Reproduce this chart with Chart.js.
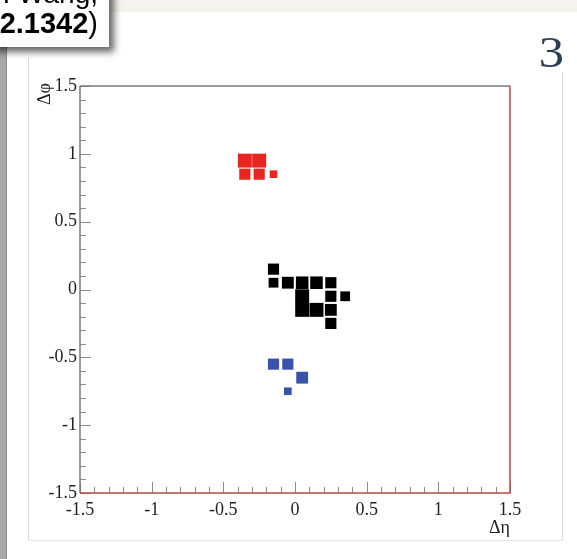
<!DOCTYPE html>
<html lang="en">
<head>
  <meta charset="UTF-8">
  <title>Delta eta / Delta phi</title>
  <script src="https://cdn.jsdelivr.net/npm/chart.js"></script>
  <style>
    html, body { margin: 0; padding: 0; background: #fff; }
    #page { position: relative; width: 577px; height: 559px; overflow: hidden; background: #fff; }
    .band { position: absolute; left: 110px; top: 0; width: 467px; height: 12px; background: #f6f3ee; }
    .stripe { position: absolute; left: 0; top: 40px; width: 6px; height: 519px; background: #a9a9a9; border-right: 1px solid #8c8c8c; }
    .vl { position: absolute; width: 1px; background: #dcdcdc; }
    .hl { position: absolute; height: 1px; background: #e2e2e2; }
    .ref { position: absolute; left: -10px; top: -10px; width: 119px; height: 57px; background: #fff;
           box-shadow: 5px 5px 7px rgba(0,0,0,0.6); font-family: "Liberation Sans", sans-serif; }
    .ref span { position: absolute; right: 11px; white-space: nowrap; }
    .ref .l1 { top: -12px; font-size: 28px; }
    .ref .l2 { top: 17px; font-size: 29px; }
    .num { position: absolute; right: 13px; top: 27px; font-family: "Liberation Serif", serif; font-size: 44px; color: #2c3d57;
           transform: scaleX(1.15); transform-origin: right center; }
    canvas { position: absolute; left: 0; top: 0; }
  </style>
</head>
<body>
<div id="page">
  <div class="band"></div>
  <div class="stripe"></div>
  <div class="vl" style="left:28px; top:58px; height:482px;"></div>
  <div class="vl" style="left:562px; top:72px; height:468px;"></div>
  <div class="hl" style="left:28px; top:540px; width:535px;"></div>
  <canvas id="chartBins" width="577" height="559"></canvas>
  <div class="ref"><span class="l1">Y. Wang,</span><span class="l2"><b>2.1342</b>)</span></div>
  <div class="num">3</div>
</div>

<script>
  // centros de las celdas (bin 0.1 x 0.1) y su contenido relativo
  const binW = 0.1;

  const redEta = [-0.35, -0.25, -0.35, -0.25, -0.15];
  const redPhi = [0.95, 0.95, 0.85, 0.85, 0.85];
  const redW   = [1.0, 1.0, 0.64, 0.64, 0.30];

  const blackEta = [-0.15, -0.15, -0.05, 0.05, 0.15, 0.25, 0.05, 0.05, 0.15, 0.25, 0.25, 0.25, 0.35];
  const blackPhi = [0.15, 0.05, 0.05, 0.05, 0.05, 0.05, -0.05, -0.15, -0.15, -0.05, -0.15, -0.25, -0.05];
  const blackW   = [0.64, 0.49, 0.72, 0.81, 0.81, 0.64, 1.0, 1.0, 1.0, 0.64, 0.72, 0.64, 0.49];

  const blueEta = [-0.15, -0.05, 0.05, -0.05];
  const bluePhi = [-0.55, -0.55, -0.65, -0.75];
  const blueW   = [0.64, 0.64, 0.72, 0.30];

  const axisTicks = [-1.5, -1, -0.5, 0, 0.5, 1, 1.5];

  function puntos(eta, phi) {
    return eta.map((e, i) => ({ x: e, y: phi[i] }));
  }

  // lado de la caja proporcional a sqrt(contenido), como la opción BOX de ROOT
  function radioCaja(weights) {
    return function (ctx) {
      const xs = ctx.chart.scales.x, ys = ctx.chart.scales.y;
      const bx = Math.abs(xs.getPixelForValue(binW) - xs.getPixelForValue(0));
      const by = Math.abs(ys.getPixelForValue(binW) - ys.getPixelForValue(0));
      const side = (bx + by) / 2 * Math.sqrt(weights[ctx.dataIndex]);
      return side / 2 / Math.SQRT1_2;
    };
  }

  // marco del histograma, marcas de las escalas y títulos de los ejes
  const marcoPlugin = {
    id: 'marco',
    afterDraw(chart) {
      const c = chart.ctx, a = chart.chartArea;
      const xs = chart.scales.x, ys = chart.scales.y;
      c.save();
      c.lineWidth = 1;
      c.strokeStyle = '#8a8a8a';
      for (let k = -15; k <= 15; k++) {
        const v = k / 10;
        const len = (k % 5 === 0) ? 11 : 6;
        const px = Math.round(xs.getPixelForValue(v)) + 0.5;
        c.beginPath(); c.moveTo(px, a.bottom); c.lineTo(px, a.bottom - len); c.stroke();
        const py = Math.round(ys.getPixelForValue(v)) + 0.5;
        c.beginPath(); c.moveTo(a.left, py); c.lineTo(a.left + len, py); c.stroke();
      }
      c.lineWidth = 1.5;
      c.strokeStyle = '#7a7a7a';
      c.beginPath(); c.moveTo(a.left, a.top); c.lineTo(a.right, a.top); c.stroke();
      c.beginPath(); c.moveTo(a.left, a.top); c.lineTo(a.left, a.bottom); c.stroke();
      c.strokeStyle = '#b04a44';
      c.beginPath(); c.moveTo(a.left, a.bottom); c.lineTo(a.right, a.bottom); c.lineTo(a.right, a.top); c.stroke();

      c.fillStyle = '#222';
      c.font = '18px "Liberation Serif", serif';
      c.textAlign = 'right';
      c.textBaseline = 'alphabetic';
      c.fillText('\u0394\u03b7', a.right, 533);
      c.translate(50, a.top - 3);
      c.rotate(-Math.PI / 2);
      c.fillText('\u0394\u03c6', 0, 0);
      c.restore();
    }
  };

  const fuenteEjes = { family: '"Liberation Serif", serif', size: 18 };

  const ctxBins = document.getElementById('chartBins').getContext('2d');
  const chartBins = new Chart(ctxBins, {
    type: 'scatter',
    data: {
      datasets: [
        { label: 'rojo', data: puntos(redEta, redPhi), backgroundColor: '#e8251f',
          pointStyle: 'rect', pointRadius: radioCaja(redW), pointBorderWidth: 0 },
        { label: 'negro', data: puntos(blackEta, blackPhi), backgroundColor: '#000000',
          pointStyle: 'rect', pointRadius: radioCaja(blackW), pointBorderWidth: 0 },
        { label: 'azul', data: puntos(blueEta, bluePhi), backgroundColor: '#3a53aa',
          pointStyle: 'rect', pointRadius: radioCaja(blueW), pointBorderWidth: 0 }
      ]
    },
    options: {
      responsive: false,
      animation: false,
      events: [],
      layout: { padding: { left: 0, top: 86, right: 67, bottom: 26 } },
      plugins: { legend: { display: false }, tooltip: { enabled: false } },
      scales: {
        x: {
          type: 'linear', min: -1.5, max: 1.5,
          afterBuildTicks: s => { s.ticks = axisTicks.map(v => ({ value: v })); },
          afterFit: s => { s.height = 40; },
          grid: { display: false, drawTicks: false },
          border: { display: false },
          ticks: { font: fuenteEjes, color: '#222', padding: 6, maxRotation: 0, autoSkip: false,
                   callback: v => String(v) }
        },
        y: {
          type: 'linear', min: -1.5, max: 1.5,
          afterBuildTicks: s => { s.ticks = axisTicks.map(v => ({ value: v })); },
          afterFit: s => { s.width = 80; },
          grid: { display: false, drawTicks: false },
          border: { display: false },
          ticks: { font: fuenteEjes, color: '#222', padding: 3, autoSkip: false,
                   callback: v => String(v) }
        }
      }
    },
    plugins: [marcoPlugin]
  });
</script>
</body>
</html>
